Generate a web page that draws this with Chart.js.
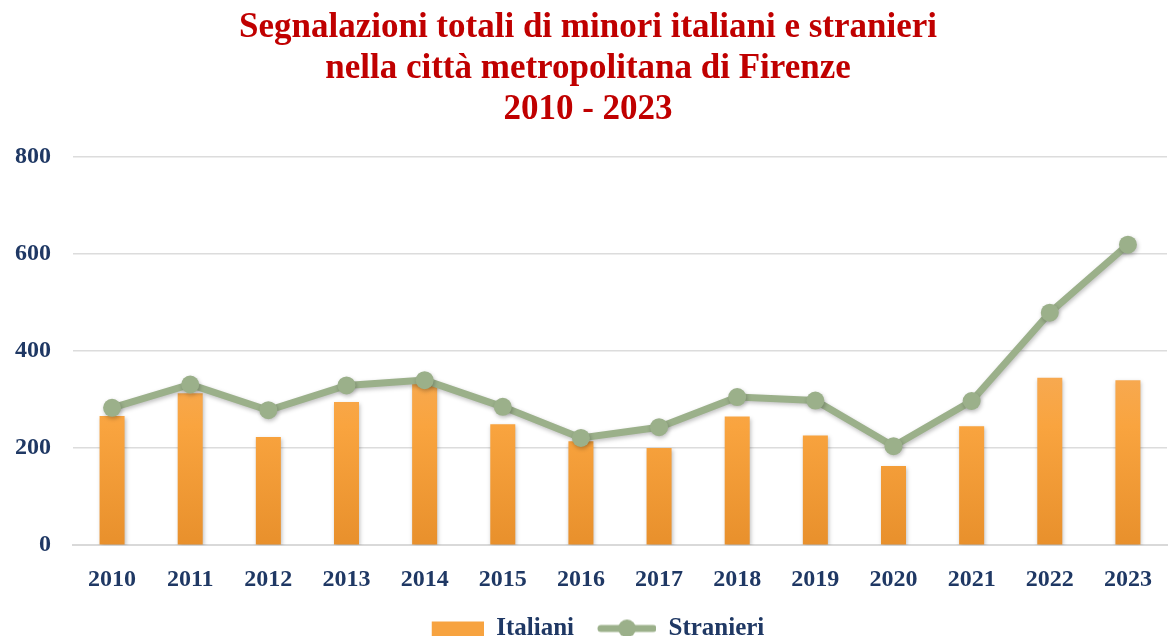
<!DOCTYPE html>
<html>
<head>
<meta charset="utf-8">
<script src="https://cdn.jsdelivr.net/npm/chart.js@4/dist/chart.umd.min.js"></script>
<style>
  html, body { margin: 0; padding: 0; background: #fff; overflow: hidden; }
  #wrap { width: 1176px; height: 651px; }
</style>
</head>
<body>
<div id="wrap"><canvas id="myChart" width="1176" height="651"></canvas></div>
<script>
const years = ['2010', '2011', '2012', '2013', '2014', '2015', '2016', '2017', '2018', '2019', '2020', '2021', '2022', '2023']
const italiani = [266, 313, 223, 295, 337, 249, 214, 200, 265, 226, 163, 245, 345, 340]
const stranieri = [283, 331, 278, 329, 340, 285, 221, 243, 305, 298, 204, 297, 479, 619]
const yTicks = [0, 200, 400, 600, 800]

const navy = '#1f3864'
const green = '#9bb08a'
const serif = "'Liberation Serif', 'DejaVu Serif', serif"

// legend symbols (right aligned inside a 72px wide image)
function legendBox() {
    const c = document.createElement('canvas')
    c.width = 72; c.height = 16
    const g = c.getContext('2d')
    g.fillStyle = '#f7a340'
    g.fillRect(20, 1, 52, 15)
    return c
}
function legendLine() {
    const c = document.createElement('canvas')
    c.width = 72; c.height = 20
    const g = c.getContext('2d')
    g.strokeStyle = green
    g.lineWidth = 7
    g.lineCap = 'round'
    g.beginPath(); g.moveTo(17, 10); g.lineTo(69, 10); g.stroke()
    g.fillStyle = green
    g.beginPath(); g.arc(43, 10, 9, 0, Math.PI * 2); g.fill()
    return c
}

function barGradient(context) {
    const area = context.chart.chartArea
    if (!area) return '#f7a340'
    const g = context.chart.ctx.createLinearGradient(0, area.top + 150, 0, area.bottom)
    g.addColorStop(0, '#f4b068')
    g.addColorStop(0.5, '#f9a43f')
    g.addColorStop(1, '#e8902c')
    return g
}

const shadowPlugin = {
    id: 'shadow',
    beforeDatasetDraw(chart) {
        const ctx = chart.ctx
        ctx.save()
        ctx.shadowColor = 'rgba(0,0,0,0.25)'
        ctx.shadowBlur = 4
        ctx.shadowOffsetX = 1
        ctx.shadowOffsetY = 2
    },
    afterDatasetDraw(chart) {
        chart.ctx.restore()
    }
}

let myChart = document.getElementById('myChart').getContext('2d')
new Chart(myChart, {
    type: 'bar',
    data: {
        labels: years,
        datasets: [{
            type: 'line',
            label: 'Stranieri',
            data: stranieri,
            borderColor: green,
            backgroundColor: green,
            borderWidth: 7,
            pointRadius: 9,
            pointBackgroundColor: green,
            pointBorderColor: green,
            pointBorderWidth: 0,
            tension: 0,
            order: 0
        }, {
            label: 'Italiani',
            data: italiani,
            backgroundColor: barGradient,
            barPercentage: 0.32,
            categoryPercentage: 1,
            order: 1
        }]
    },
    options: {
        responsive: false,
        animation: false,
        layout: { padding: 0 },
        plugins: {
            title: {
                display: true,
                text: ['Segnalazioni totali di minori italiani e stranieri', 'nella città metropolitana di Firenze', '2010 - 2023'],
                color: '#c00000',
                font: { family: serif, size: 35, weight: 'bold', lineHeight: 1.16 },
                padding: { top: 8, bottom: 27 }
            },
            legend: {
                position: 'bottom',
                labels: {
                    usePointStyle: true,
                    pointStyleWidth: 72,
                    color: navy,
                    padding: 10,
                    font: { family: serif, size: 25, weight: 'bold' },
                    generateLabels() {
                        return [
                            { text: 'Italiani', pointStyle: legendBox(), datasetIndex: 1, fontColor: navy },
                            { text: 'Stranieri', pointStyle: legendLine(), datasetIndex: 0, fontColor: navy }
                        ]
                    }
                }
            },
            tooltip: { enabled: false }
        },
        scales: {
            x: {
                grid: { display: false },
                border: { display: true, color: '#d9d9d9', width: 2 },
                ticks: {
                    color: navy,
                    padding: 12,
                    font: { family: serif, size: 24, weight: 'bold' }
                }
            },
            y: {
                min: 0,
                max: 800,
                afterBuildTicks(axis) { axis.ticks = yTicks.map(v => ({ value: v })) },
                afterFit(axis) { axis.width = 73 },
                grid: { color: '#dcdcdc', lineWidth: 1.5, drawTicks: false },
                border: { display: false },
                ticks: {
                    color: navy,
                    padding: 22,
                    font: { family: serif, size: 24, weight: 'bold' }
                }
            }
        }
    },
    plugins: [shadowPlugin]
})
</script>
</body>
</html>
